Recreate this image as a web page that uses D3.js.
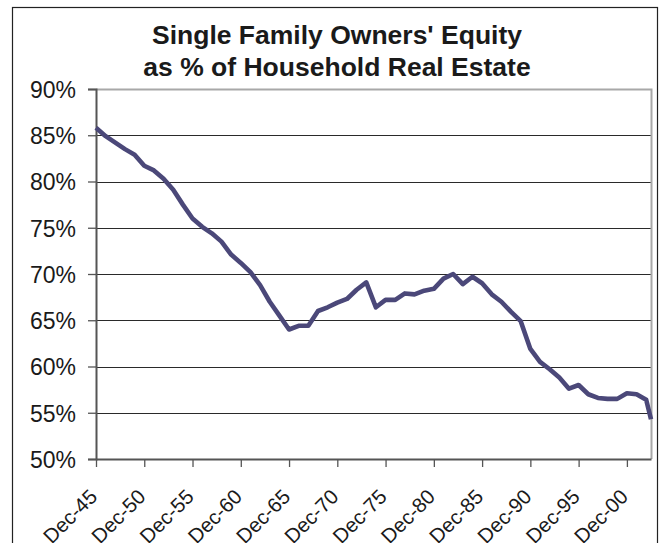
<!DOCTYPE html>
<html>
<head>
<meta charset="utf-8">
<script src="https://cdn.jsdelivr.net/npm/d3@7"></script>
<style>
  html, body { margin: 0; padding: 0; background: #fff; }
  svg { display: block; }
  text { font-family: "Liberation Sans", Arial, sans-serif; fill: #1a1a1a; }
</style>
</head>
<body>
<svg id="chart" width="663" height="543"></svg>
<script>
// Observation dates (year-end, plus the latest mid-year reading)
const dates = [
  "1945-12","1946-12","1947-12","1948-12","1949-12","1950-12","1951-12","1952-12",
  "1953-12","1954-12","1955-12","1956-12","1957-12","1958-12","1959-12","1960-12",
  "1961-12","1962-12","1963-12","1964-12","1965-12","1966-12","1967-12","1968-12",
  "1969-12","1970-12","1971-12","1972-12","1973-12","1974-12","1975-12","1976-12",
  "1977-12","1978-12","1979-12","1980-12","1981-12","1982-12","1983-12","1984-12",
  "1985-12","1986-12","1987-12","1988-12","1989-12","1990-12","1991-12","1992-12",
  "1993-12","1994-12","1995-12","1996-12","1997-12","1998-12","1999-12","2000-12",
  "2001-12","2002-12","2003-06"
];

// Owners' equity as % of household real estate
const equityPct = [
  85.8, 84.9, 84.2, 83.5, 82.9, 81.7, 81.2, 80.3,
  79.1, 77.5, 76.0, 75.1, 74.4, 73.5, 72.1, 71.2,
  70.2, 68.8, 67.0, 65.5, 64.0, 64.4, 64.4, 66.0,
  66.4, 66.9, 67.3, 68.3, 69.1, 66.4, 67.2, 67.2,
  67.9, 67.8, 68.2, 68.4, 69.5, 70.0, 68.9, 69.7,
  69.0, 67.8, 67.0, 65.9, 64.9, 61.9, 60.5, 59.7,
  58.8, 57.6, 58.0, 57.0, 56.6, 56.5, 56.5, 57.1,
  57.0, 56.4, 54.3
];

// Axis labels
const yTicks = [50, 55, 60, 65, 70, 75, 80, 85, 90];
const xTickDates = ["1945-12","1950-12","1955-12","1960-12","1965-12","1970-12",
                    "1975-12","1980-12","1985-12","1990-12","1995-12","2000-12"];
const titleLines = ["Single Family Owners' Equity", "as % of Household Real Estate"];

const parse = d3.timeParse("%Y-%m");
const fmtX = d3.timeFormat("Dec-%y");
const series = dates.map((d, i) => ({ date: parse(d), value: equityPct[i] }));

const svg = d3.select("#chart");
const plot = { left: 96, top: 89, right: 651, bottom: 459 };

// Outer chart frame
svg.append("rect")
  .attr("x", 12.5).attr("y", 7.5)
  .attr("width", 645).attr("height", 560)
  .attr("fill", "#fff").attr("stroke", "#222").attr("stroke-width", 1.2);

// Title
svg.append("g").selectAll("text")
  .data(titleLines)
  .join("text")
  .attr("x", 337)
  .attr("y", (d, i) => 44 + i * 32)
  .attr("text-anchor", "middle")
  .attr("font-size", 26.5)
  .attr("font-weight", "bold")
  .text(d => d);

const x = d3.scaleTime()
  .domain(d3.extent(series, d => d.date))
  .range([plot.left, plot.right]);

const y = d3.scaleLinear()
  .domain([50, 90])
  .range([plot.bottom, plot.top]);

// Plot background
svg.append("rect")
  .attr("x", plot.left).attr("y", plot.top)
  .attr("width", plot.right - plot.left).attr("height", plot.bottom - plot.top)
  .attr("fill", "#fff");

// Horizontal gridlines
svg.append("g")
  .selectAll("line")
  .data(yTicks.filter(v => v > 50 && v < 90))
  .join("line")
  .attr("x1", plot.left).attr("x2", plot.right)
  .attr("y1", d => Math.round(y(d)) + 0.5).attr("y2", d => Math.round(y(d)) + 0.5)
  .attr("stroke", "#2a2a2a").attr("stroke-width", 1.1);

// Plot frame: light grey top and right edges
svg.append("path")
  .attr("d", `M${plot.left},${plot.top + 0.5}H${plot.right + 0.5}V${plot.bottom}`)
  .attr("fill", "none").attr("stroke", "#a8a8a8").attr("stroke-width", 2);

// Y axis
const yAxis = svg.append("g")
  .attr("transform", `translate(${plot.left},0)`)
  .call(d3.axisLeft(y).tickValues(yTicks).tickFormat(d => d + "%").tickSize(8).tickPadding(12));
yAxis.select(".domain").attr("stroke", "#555").attr("stroke-width", 2);
yAxis.selectAll(".tick line").attr("stroke", "#555").attr("stroke-width", 1.3);
yAxis.selectAll(".tick text")
  .attr("font-size", 23)
  .attr("font-family", "Liberation Sans, Arial, sans-serif")
  .attr("fill", "#1a1a1a")
  .attr("dy", "0.36em");

// X axis
const xAxis = svg.append("g")
  .attr("transform", `translate(0,${plot.bottom})`)
  .call(d3.axisBottom(x).tickValues(xTickDates.map(parse)).tickFormat(fmtX).tickSize(8).tickSizeOuter(0));
xAxis.select(".domain").attr("stroke", "#555").attr("stroke-width", 2);
xAxis.selectAll(".tick line").attr("stroke", "#555").attr("stroke-width", 1.3);
xAxis.selectAll(".tick text")
  .attr("font-size", 20.5)
  .attr("font-family", "Liberation Sans, Arial, sans-serif")
  .attr("fill", "#1a1a1a")
  .attr("text-anchor", "end")
  .attr("x", 0).attr("y", 0).attr("dy", 0)
  .attr("transform", "translate(2,39) rotate(-45)");

// Equity line
svg.append("path")
  .datum(series)
  .attr("fill", "none")
  .attr("stroke", "#4b4879")
  .attr("stroke-width", 4.6)
  .attr("stroke-linejoin", "round")
  .attr("d", d3.line().x(d => x(d.date)).y(d => y(d.value)));
</script>
</body>
</html>
